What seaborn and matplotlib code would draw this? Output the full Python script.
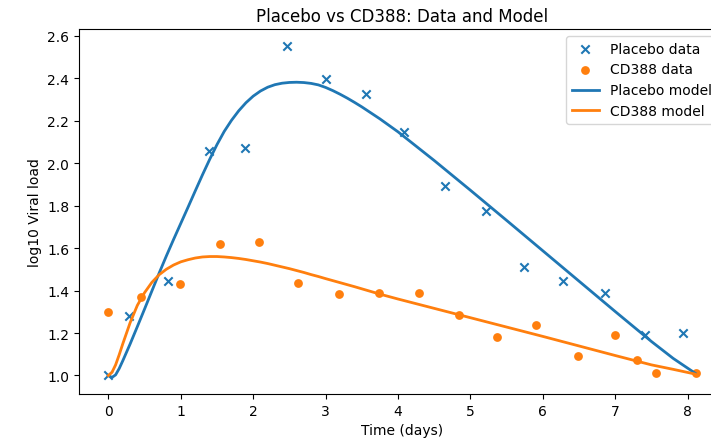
import matplotlib
matplotlib.use("Agg")
import matplotlib.pyplot as plt
import seaborn as sns

# Observed data
placebo_time = [0.0, 0.29, 0.83, 1.39, 1.88, 2.47, 3.00, 3.56, 4.08, 4.65, 5.21, 5.74, 6.28, 6.86, 7.41, 7.93]
placebo_load = [1.00, 1.278, 1.444, 2.057, 2.07, 2.553, 2.397, 2.326, 2.147, 1.892, 1.774, 1.51, 1.444, 1.39, 1.189, 1.198]

cd388_time = [0.0, 0.446, 0.984, 1.545, 2.083, 2.625, 3.186, 3.738, 4.285, 4.846, 5.37, 5.908, 6.48, 6.997, 7.306, 7.568, 8.11]
cd388_load = [1.297, 1.371, 1.433, 1.621, 1.629, 1.437, 1.382, 1.39, 1.386, 1.285, 1.181, 1.236, 1.091, 1.189, 1.072, 1.013, 1.013]

# Model curves
model_time = [0.0, 0.05, 0.1, 0.15, 0.2, 0.3, 0.4, 0.5, 0.6, 0.7, 0.8, 0.9, 1.0,
              1.1, 1.2, 1.3, 1.4, 1.5, 1.6, 1.7, 1.8, 1.9, 2.0, 2.1, 2.2, 2.3, 2.4,
              2.5, 2.6, 2.7, 2.8, 2.9, 3.0, 3.1, 3.2, 3.3, 3.4, 3.5, 3.75,
              4.0, 4.5, 5.0, 5.5, 6.0, 6.5, 7.0, 7.5, 7.8, 8.1]
placebo_model = [1.0, 0.991, 1.003, 1.033, 1.07, 1.148, 1.230, 1.313, 1.397, 1.481, 1.562, 1.640, 1.716,
                 1.792, 1.869, 1.945, 2.018, 2.087, 2.149, 2.201, 2.246, 2.284, 2.315, 2.339, 2.357, 2.369, 2.376,
                 2.3795, 2.3805, 2.379, 2.375, 2.368, 2.356, 2.341, 2.324, 2.3055, 2.2855, 2.2645, 2.208,
                 2.147, 2.012, 1.872, 1.730, 1.587, 1.444, 1.301, 1.160, 1.0805, 1.0115]
cd388_model = [1.0, 1.015, 1.05, 1.098, 1.150, 1.248, 1.330, 1.390, 1.438, 1.474, 1.500, 1.520, 1.535,
               1.545, 1.553, 1.558, 1.560, 1.560, 1.558, 1.555, 1.551, 1.546, 1.540, 1.534, 1.527, 1.519, 1.511,
               1.503, 1.494, 1.485, 1.475, 1.466, 1.456, 1.4465, 1.437, 1.4275, 1.418, 1.408, 1.383,
               1.360, 1.316, 1.272, 1.228, 1.184, 1.139, 1.094, 1.050, 1.029, 1.007]

blue = "#1f77b4"
orange = "#ff7f0e"

fig = plt.figure(figsize=(7.11, 4.39), dpi=100)
ax = fig.add_axes([79 / 711, 44 / 439, 646 / 711, 365 / 439])

sns.scatterplot(x=placebo_time, y=placebo_load, marker="x", color=blue, s=36,
                linewidth=1.5, label="Placebo data", ax=ax)
sns.scatterplot(x=cd388_time, y=cd388_load, marker="o", color=orange, s=40,
                edgecolor="face", linewidth=0, label="CD388 data", ax=ax)
sns.lineplot(x=model_time, y=placebo_model, color=blue, lw=2, label="Placebo model", ax=ax)
sns.lineplot(x=model_time, y=cd388_model, color=orange, lw=2, label="CD388 model", ax=ax)

ax.set_xticks(range(0, 9))
ax.set_yticks([1.0, 1.2, 1.4, 1.6, 1.8, 2.0, 2.2, 2.4, 2.6])
ax.set_title("Placebo vs CD388: Data and Model")
ax.set_xlabel("Time (days)")
ax.set_ylabel("log10 Viral load")
ax.legend(loc="upper right")

fig.savefig("out.png", dpi=100)
